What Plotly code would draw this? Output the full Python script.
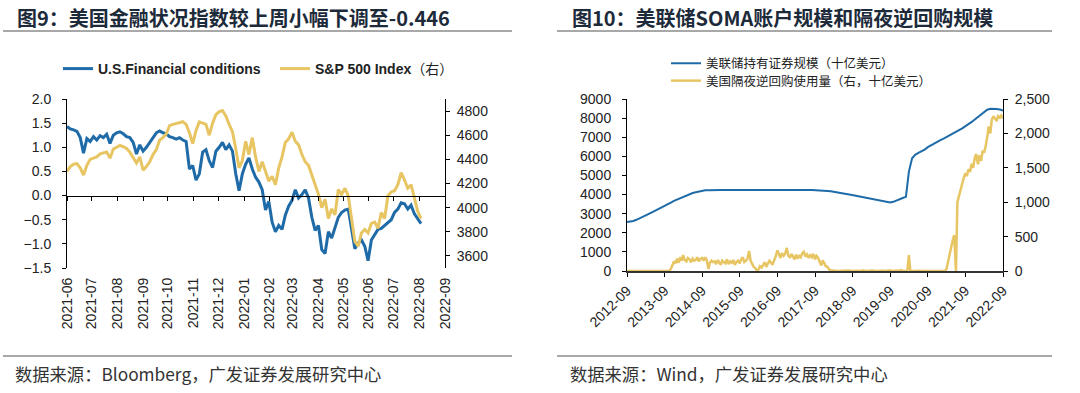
import pandas as pd
import plotly.graph_objects as go

# ---------------- Left chart data (Fig. 9) ----------------
fci_start = "2021-06-01"
fci = [1.43, 1.38, 1.36, 1.33, 1.20, 0.88, 1.18, 1.12, 1.22, 1.15,
       1.24, 1.20, 1.27, 1.08, 1.25, 1.30, 1.32, 1.28, 1.22, 1.20,
       1.10, 0.86, 1.05, 0.92, 1.00, 1.10, 1.22, 1.30, 1.34, 1.30,
       1.28, 1.22, 1.20, 1.17, 1.20, 1.15, 1.12, 0.55, 0.62, 0.32,
       0.45, 0.90, 0.95, 0.72, 0.58, 0.92, 1.00, 1.10, 0.95, 1.05,
       0.92, 0.45, 0.10, 0.45, 0.65, 0.78, 0.55, 0.38, 0.28, 0.12,
       -0.30, -0.12, -0.55, -0.75, -0.62, -0.70, -0.40, -0.22, -0.10, 0.12,
       -0.05, 0.02, 0.12, -0.05, -0.45, -0.72, -0.62, -1.12, -1.20, -0.75,
       -0.88, -0.65, -0.45, -0.35, -0.30, -0.28, -0.70, -1.10, -0.98, -0.92,
       -1.05, -1.35, -0.92, -0.82, -0.70, -0.68, -0.62, -0.55, -0.50, -0.35,
       -0.28, -0.15, -0.17, -0.28, -0.20, -0.38, -0.48, -0.58]
spx = [4300, 4340, 4360, 4365, 4330, 4270, 4350, 4400, 4410, 4420,
       4445, 4450, 4460, 4410, 4485, 4500, 4515, 4505, 4490, 4460,
       4420, 4370, 4420, 4310, 4340, 4380, 4440, 4480, 4560, 4580,
       4610, 4680, 4690, 4698, 4700, 4712, 4690, 4620, 4530, 4640,
       4710, 4700, 4690, 4600, 4700, 4770, 4795, 4805, 4760, 4690,
       4630, 4490, 4330, 4390, 4550, 4440, 4580, 4420, 4300, 4380,
       4300, 4220, 4260, 4190, 4330, 4420, 4540, 4570, 4625, 4550,
       4520, 4440, 4380, 4350, 4270, 4190, 4110, 4000, 4070, 3910,
       3990, 3940, 4150, 4110, 4160, 4100, 3920, 3720, 3680, 3790,
       3820, 3790, 3870, 3880, 3830, 3960, 3910, 4100, 4130, 4140,
       4190, 4290, 4230, 4160, 4190, 4070, 3970, 3910]
fci_dates = pd.date_range(fci_start, periods=len(fci), freq="4D")

# ---------------- Right chart data (Fig. 10) ----------------
soma = [2560, 2580, 2620, 2680,
        2750, 2830, 2910, 2990, 3070, 3150, 3230, 3320, 3410, 3490, 3580, 3670,
        3740, 3820, 3890, 3960, 4020, 4080, 4120, 4160, 4190, 4220, 4230, 4240,
        4240, 4245, 4240, 4235, 4240, 4245, 4240, 4238, 4235, 4240, 4242, 4240,
        4240, 4238, 4240, 4235, 4232, 4235, 4230, 4228, 4225, 4222, 4225, 4230,
        4235, 4240, 4245, 4245, 4240, 4240, 4238, 4235, 4232, 4225, 4215, 4205,
        4190, 4170, 4150, 4120, 4090, 4060, 4030, 4000, 3970, 3940, 3905, 3870,
        3835, 3800, 3765, 3730, 3700, 3670, 3640, 3610, 3580, 3620, 3700, 3770,
        3820, 3880, 5200, 5900, 6080, 6180, 6260, 6350, 6480, 6580, 6680, 6760,
        6850, 6930, 7020, 7110, 7200, 7290, 7370, 7460, 7560, 7680, 7800, 7930,
        8060, 8200, 8330, 8440, 8490, 8500, 8480, 8450, 8400]
soma_dates = pd.date_range("2012-09-01", periods=len(soma), freq="MS")

rrp = [0, 0, 0, 0, 0, 0, 0, 0,
       0, 0, 0, 0, 0, 0, 0, 0, 0, 0, 0, 0, 0, 0, 0, 0, 0, 0, 0, 0, 30, 90, 140, 110,
       180, 120, 200, 150, 230, 160, 140, 190, 170, 130, 180, 150, 160, 200, 140, 175, 190, 150, 200, 160, 30, 120, 150, 130,
       140, 100, 160, 120, 90, 150, 130, 110, 170, 100, 140, 120, 160, 90, 130, 150, 110, 170, 200, 130, 150, 180, 290, 150,
       100, 60, 40, 0, 20, 70, 50, 90, 130, 60, 100, 150, 120, 90, 160, 210, 300, 240, 190, 260, 220, 250, 335, 230,
       190, 250, 200, 170, 240, 180, 220, 200, 260, 280, 210, 240, 190, 230, 200, 250, 170, 220, 190, 150, 80, 155, 110, 70,
       60, 25, 10, 5, 0, 3, 0, 5, 0, 2, 4, 0, 3, 0, 6, 0, 2, 0, 8, 0, 3, 0, 5, 10,
       0, 4, 0, 2, 6, 0, 3, 0, 5, 0, 2, 8, 0, 3, 0, 6, 10, 0, 4, 0, 3, 8, 2, 12,
       0, 3, 0, 5, 230, 0, 0, 2, 0, 0, 0, 3, 0, 0, 0, 0, 0, 0, 0, 0, 0, 0, 0, 0,
       0, 0, 0, 0, 30, 130, 250, 370, 450, 520, 0, 1000, 1100, 1200, 1300, 1350, 1420, 1380, 1480, 1440, 1560, 1500, 1650, 1700,
       1550, 1680, 1600, 1750, 1720, 1800, 1950, 2100, 2000, 2200, 2250, 2220, 2180, 2250, 2230, 2260, 2220]
rrp_dates = pd.date_range("2012-09-01", "2022-09-01", freq="SMS")

# ---------------- Styling ----------------
W, H = 1080, 393
BLUE = "#1F6BA8"
YELLOW = "#E8C563"
TXT = "#222222"
FONT = "Liberation Sans, Arial, Noto Sans CJK SC"
CJK = "Noto Sans CJK SC, Liberation Sans"


def px(x):
    return x / W


def py(y):
    return 1 - y / H


fig = go.Figure()
fig.add_trace(go.Scatter(x=fci_dates, y=fci, mode="lines", name="<b>U.S.Financial conditions</b>",
                         line=dict(color=BLUE, width=3), xaxis="x", yaxis="y", legend="legend"))
fig.add_trace(go.Scatter(x=fci_dates, y=spx, mode="lines", name="<b>S&P 500 Index</b>（右）",
                         line=dict(color=YELLOW, width=3), xaxis="x5", yaxis="y2", legend="legend4"))
fig.add_trace(go.Scatter(x=soma_dates, y=soma, mode="lines", name="美联储持有证券规模（十亿美元）",
                         line=dict(color=BLUE, width=2), xaxis="x3", yaxis="y3", legend="legend2"))
fig.add_trace(go.Scatter(x=rrp_dates, y=rrp, mode="lines", name="美国隔夜逆回购使用量（右，十亿美元）",
                         line=dict(color=YELLOW, width=2.5), xaxis="x3", yaxis="y4", legend="legend3"))

ly0, ly1 = py(268), py(99)
ry0, ry1 = py(271), py(99)
zero_pos = ly0 + (0 - (-1.5)) / 3.5 * (ly1 - ly0)

axis_common = dict(showgrid=False, zeroline=False, linecolor="black", linewidth=1, automargin=False,
                   tickcolor="black", ticklen=4, tickfont=dict(family=FONT, size=14, color=TXT))


def legend_at(x, y, font):
    return dict(orientation="h", x=px(x), y=py(y), xanchor="left", yanchor="middle",
                font=font, bgcolor="rgba(0,0,0,0)", itemwidth=30)


lfont = dict(family=FONT, size=14, color=TXT)
rfont = dict(family=CJK, size=12.5, color=TXT)

left_range = ["2021-06-01", "2022-09-01"]
fig.update_layout(
    width=W, height=H, margin=dict(l=0, r=0, t=0, b=0, autoexpand=False),
    paper_bgcolor="white", plot_bgcolor="white",
    showlegend=True,
    xaxis=dict(domain=[px(67), px(445)], anchor="y", range=left_range, type="date",
               tick0="2021-06-01", dtick="M1", tickformat="%Y-%m", tickangle=-90,
               showline=False, ticks="", ticklabelstandoff=6, **axis_common),
    xaxis5=dict(domain=[px(67), px(445)], anchor="free", overlaying="x", position=zero_pos,
                range=left_range, type="date", tick0="2021-06-01", dtick="M1",
                showline=True, ticks="outside", showticklabels=False, **axis_common),
    yaxis=dict(domain=[ly0, ly1], anchor="x", range=[-1.5, 2.0], dtick=0.5, tickformat=".1f",
               showline=True, ticks="outside", ticklabelstandoff=8, **axis_common),
    yaxis2=dict(domain=[ly0, ly1], anchor="x", overlaying="y", side="right", range=[3500, 4900],
                dtick=200, showline=True, ticks="outside", ticklabelstandoff=4, **axis_common),
    xaxis3=dict(domain=[px(627), px(1003)], anchor="y3", range=["2012-09-01", "2022-09-01"], type="date",
                tick0="2012-09-01", dtick="M12", tickformat="%Y-%m", tickangle=-45,
                showline=True, ticks="outside", **axis_common),
    yaxis3=dict(domain=[ry0, ry1], anchor="x3", range=[0, 9000], dtick=1000,
                showline=True, ticks="outside", ticklabelstandoff=8, **axis_common),
    yaxis4=dict(domain=[ry0, ry1], anchor="x3", overlaying="y3", side="right", range=[0, 2500],
                dtick=500, tickformat=",", showline=True, ticks="outside", ticklabelstandoff=4, **axis_common),
    legend=legend_at(58, 69, lfont),
    legend4=legend_at(275, 69, lfont),
    legend2=legend_at(666, 63.5, rfont),
    legend3=legend_at(666, 81, rfont),
)
fig.update_layout(xaxis3=dict(linewidth=2, linecolor="#333333"))

# Titles, separators and sources
anns = [
    dict(text="<b>图9：美国金融状况指数较上周小幅下调至-0.446</b>", x=px(15), y=py(17)),
    dict(text="<b>图10：美联储SOMA账户规模和隔夜逆回购规模</b>", x=px(570), y=py(17)),
]
for a in anns:
    fig.add_annotation(text=a["text"], x=a["x"], y=a["y"], xref="paper", yref="paper",
                       xanchor="left", yanchor="middle", showarrow=False,
                       font=dict(family=CJK, size=20, color="#1C2A3A"))
srcs = [
    dict(text="数据来源：Bloomberg，广发证券发展研究中心", x=px(13), y=py(373)),
    dict(text="数据来源：Wind，广发证券发展研究中心", x=px(568), y=py(373)),
]
for s in srcs:
    fig.add_annotation(text=s["text"], x=s["x"], y=s["y"], xref="paper", yref="paper",
                       xanchor="left", yanchor="middle", showarrow=False,
                       font=dict(family=CJK, size=17.3, color="#333333"))

for (x0, x1) in [(3, 512), (557, 1052)]:
    for yy in (31, 356):
        fig.add_shape(type="line", xref="paper", yref="paper", x0=px(x0), x1=px(x1),
                      y0=py(yy), y1=py(yy), line=dict(color="#A8A8A8", width=2))

fig.write_html("out.html", config={"displayModeBar": False},
               post_script="document.body.style.margin='0px';")
